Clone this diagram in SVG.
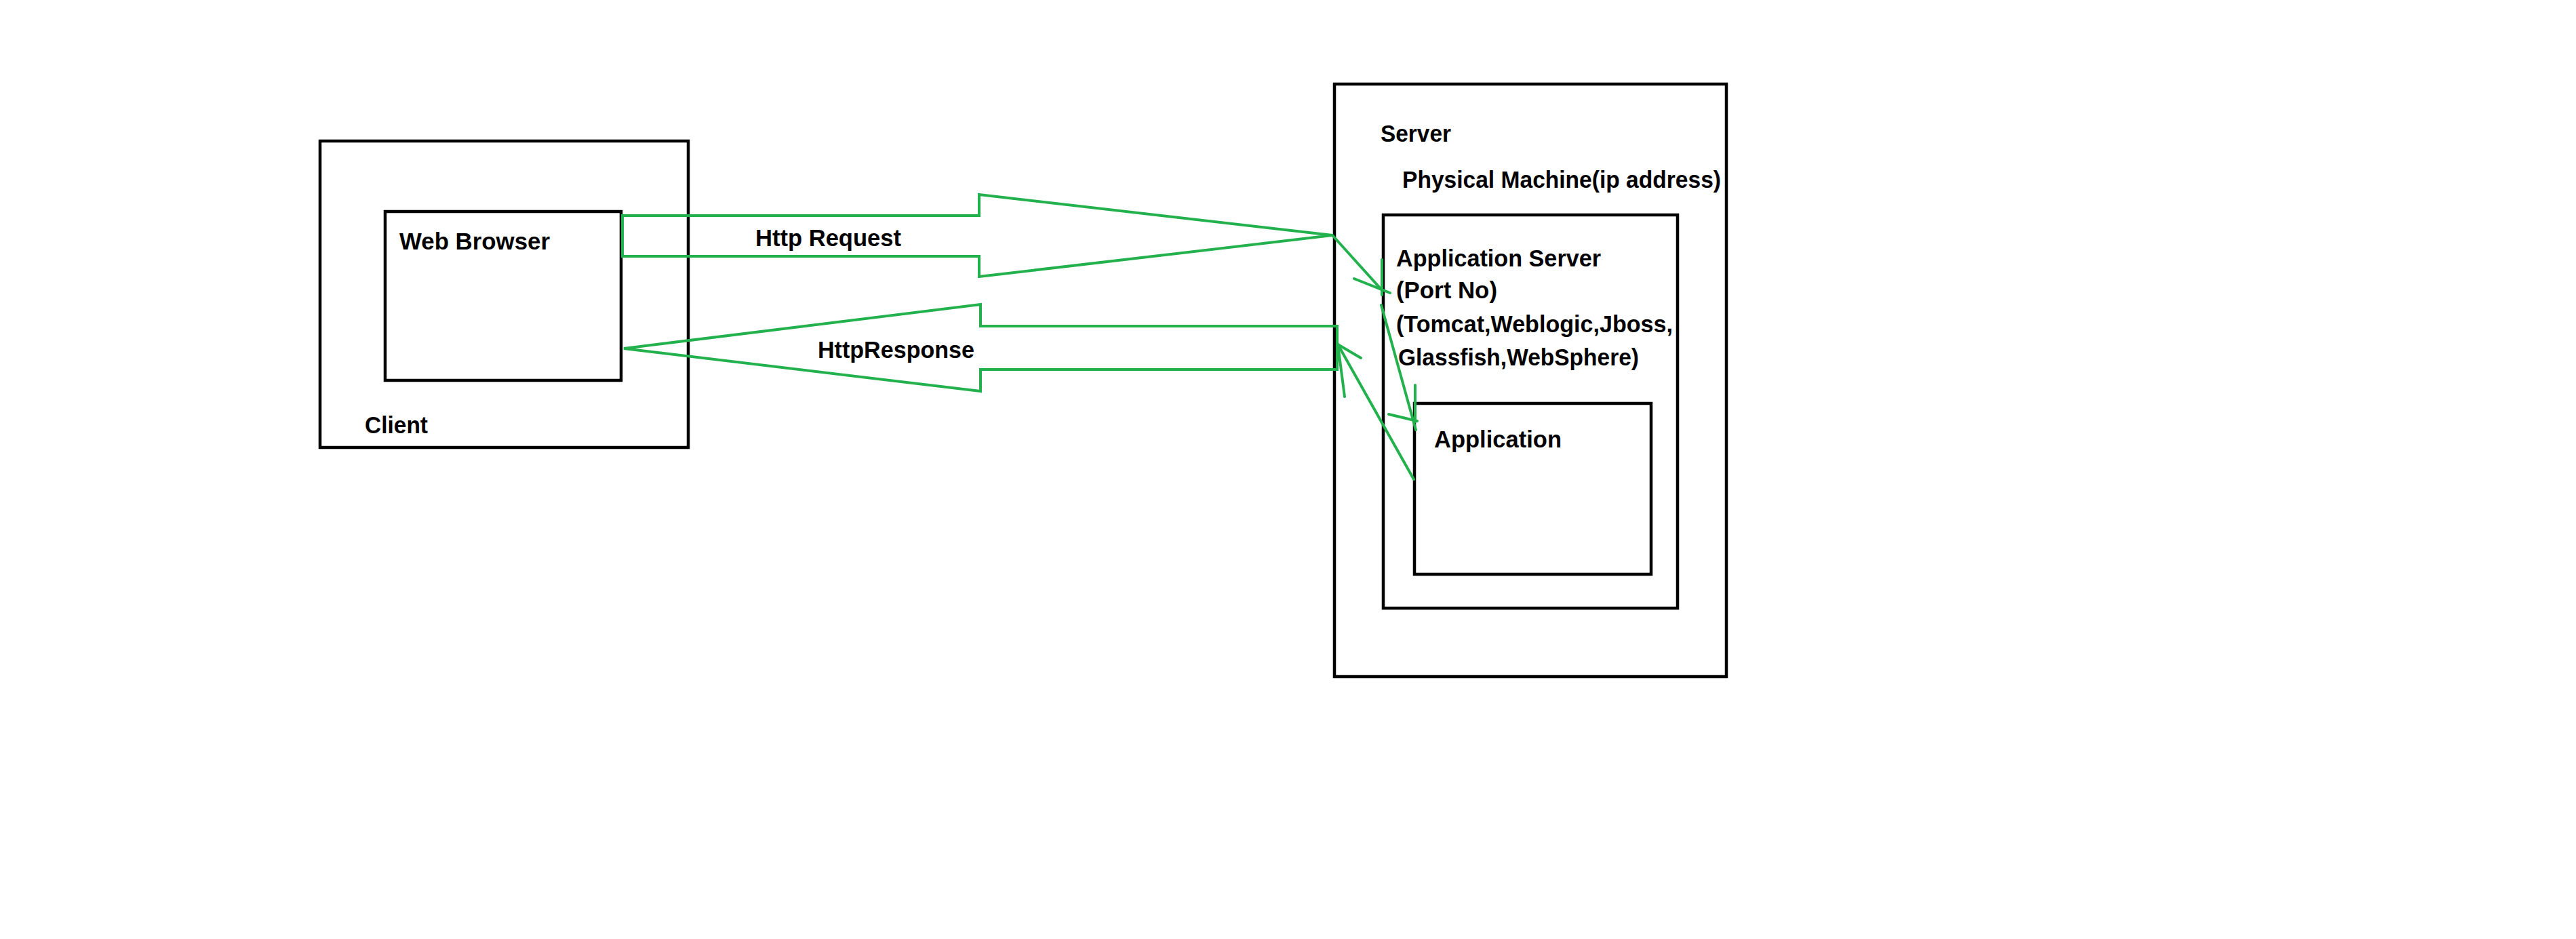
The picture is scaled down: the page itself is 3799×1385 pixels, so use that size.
<svg xmlns="http://www.w3.org/2000/svg" width="3799" height="1385" viewBox="0 0 3799 1385">
<style>
.box{fill:none;stroke:#000;stroke-width:4.5}
.g{fill:none;stroke:#22B14C;stroke-width:4;stroke-linejoin:miter;stroke-linecap:round}
text{font-family:"Liberation Sans",Arial,sans-serif;font-weight:bold;font-size:35px;fill:#000}
</style>
<rect width="3799" height="1385" fill="#fff"/>
<g id="client">
<rect class="box" x="472" y="208" width="543" height="452"/>
<text x="538" y="639" textLength="93" lengthAdjust="spacingAndGlyphs">Client</text>
</g>
<g id="web-browser">
<rect class="box" x="568" y="312" width="348" height="249"/>
<text x="589" y="368" textLength="222" lengthAdjust="spacingAndGlyphs">Web Browser</text>
</g>
<g id="server">
<rect class="box" x="1968" y="124" width="578" height="874"/>
<text x="2036" y="209" textLength="104" lengthAdjust="spacingAndGlyphs">Server</text>
<text x="2068" y="277" textLength="470" lengthAdjust="spacingAndGlyphs">Physical Machine(ip address)</text>
</g>
<g id="app-server">
<rect class="box" x="2040" y="317" width="434" height="580"/>
<text x="2059" y="393" textLength="302" lengthAdjust="spacingAndGlyphs">Application Server</text>
<text x="2059" y="440" textLength="149" lengthAdjust="spacingAndGlyphs">(Port No)</text>
<text x="2059" y="490" textLength="408" lengthAdjust="spacingAndGlyphs">(Tomcat,Weblogic,Jboss,</text>
<text x="2062" y="539" textLength="355" lengthAdjust="spacingAndGlyphs">Glassfish,WebSphere)</text>
</g>
<g id="application">
<rect class="box" x="2086" y="595" width="349" height="252"/>
<text x="2115" y="660" textLength="188" lengthAdjust="spacingAndGlyphs">Application</text>
</g>
<g id="connectors">
<polygon class="g" points="918,318 1444,318 1444,287 1965,347 1444,408 1444,378 918,378"/>
<text x="1114" y="363" textLength="215" lengthAdjust="spacingAndGlyphs">Http Request</text>
<polygon class="g" points="920,514 1446,449 1446,481 1972,481 1972,545 1446,545 1446,577"/>
<text x="1206" y="528" textLength="231" lengthAdjust="spacingAndGlyphs">HttpResponse</text>
<line class="g" x1="1965" y1="347" x2="2038" y2="428"/>
<line class="g" x1="2038" y1="383" x2="2038" y2="435"/>
<line class="g" x1="1997" y1="411" x2="2050" y2="432"/>
<line class="g" x1="2037" y1="450" x2="2088" y2="634"/>
<line class="g" x1="2087" y1="568" x2="2087" y2="622"/>
<line class="g" x1="2048" y1="611" x2="2090" y2="621"/>
<line class="g" x1="2085" y1="707" x2="1973" y2="508"/>
<line class="g" x1="1973" y1="508" x2="2007" y2="528"/>
<line class="g" x1="1973" y1="508" x2="1983" y2="585"/>
</g>
</svg>
